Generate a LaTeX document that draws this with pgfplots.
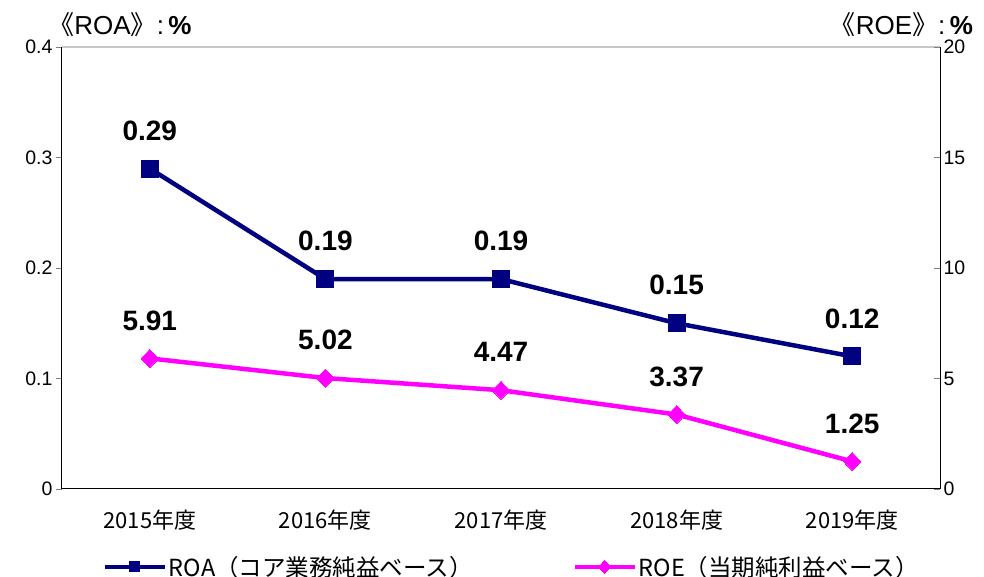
\documentclass[border=0pt]{standalone}
\usepackage{fontspec}
\setmainfont{Liberation Sans}
\newfontfamily\jp{Noto Sans CJK JP}
\usepackage{pgfplots}
\pgfplotsset{compat=1.18}
\definecolor{roablue}{HTML}{000080}
\definecolor{roepink}{HTML}{FF00FF}
\definecolor{toprule}{HTML}{C8C8C8}

\begin{document}
\begin{tikzpicture}
\path[use as bounding box] (-62pt,-88pt) rectangle (922pt,489pt);
\pgfplotsset{
  every axis/.append style={
    scale only axis, width=878pt, height=442pt,
    xmin=-0.5, xmax=4.5,
    clip=false,
    /pgf/number format/assume math mode=true,
    axis line style={black,line width=1pt,-},
    tick style={gray,line width=0.6pt},
    major tick length=6pt,
    ticklabel style={font=\fontsize{19.5}{22}\selectfont},
    every node near coord/.append style={anchor=center, yshift=38pt,
      font=\bfseries\fontsize{28}{30}\selectfont, text=black},
    nodes near coords,
    nodes near coords style={/pgf/number format/.cd, fixed, precision=2, zerofill},
  },
}
\begin{axis}[
  axis x line*=bottom, axis y line*=left,
  ymin=0, ymax=0.4, ytick={0,0.1,0.2,0.3,0.4},
  yticklabel style={/pgf/number format/fixed},
  tick align=outside,
  xtick={0,1,2,3,4},
  xticklabels={2015年度,2016年度,2017年度,2018年度,2019年度},
  xticklabel style={font=\jp\fontsize{22}{24}\selectfont, yshift=-11pt},
  xtick style={draw=none},
  legend columns=2,
  legend style={at={(rel axis cs:0.043,-0.142)}, anchor=north west,
    draw=none, fill=none, font=\jp\fontsize{23.5}{25}\selectfont,
    /tikz/every odd column/.append style={column sep=0pt},
    /tikz/every even column/.append style={column sep=98pt}},
  legend image code/.code={%
    \draw[mark repeat=2,mark phase=2] plot coordinates {(0pt,0pt)(30pt,0pt)(60pt,0pt)};},
]
\addplot[roablue, line width=4.5pt, mark=square*, mark size=8.5pt,
  mark options={solid,line width=0pt}, forget plot]
  coordinates {(0,0.29)(1,0.19)(2,0.19)(3,0.15)(4,0.12)};
\addlegendimage{roablue, line width=4pt, mark=square*, mark size=5pt,
  mark options={solid,line width=0pt}}
\addlegendentry{ROA（コア業務純益ベース）}
\addlegendimage{roepink, line width=4pt, mark=diamond*, mark size=6.5pt,
  mark options={solid,line width=0pt,xscale=1.3}}
\addlegendentry{ROE（当期純利益ベース）}
\draw[toprule, line width=1.2pt] (rel axis cs:0,1) -- (rel axis cs:1,1);
\node[font=\fontsize{26}{28}\selectfont, anchor=center, inner sep=0pt]
  at (rel axis cs:0.066,1.05) {{\jp 《}ROA{\jp 》}:\,\textbf{\%}};
\end{axis}
\begin{axis}[
  axis x line=none, axis y line*=right,
  ymin=0, ymax=20, ytick={0,5,10,15,20},
  tick align=inside,
]
\addplot[roepink, line width=4.5pt, mark=diamond*, mark size=9pt,
  mark options={solid,line width=0pt,xscale=1.3}]
  coordinates {(0,5.91)(1,5.02)(2,4.47)(3,3.37)(4,1.25)};
\node[font=\fontsize{26}{28}\selectfont, anchor=center, inner sep=0pt]
  at (rel axis cs:0.956,1.05) {{\jp 《}ROE{\jp 》}:\,\textbf{\%}};
\end{axis}
\end{tikzpicture}
\end{document}
